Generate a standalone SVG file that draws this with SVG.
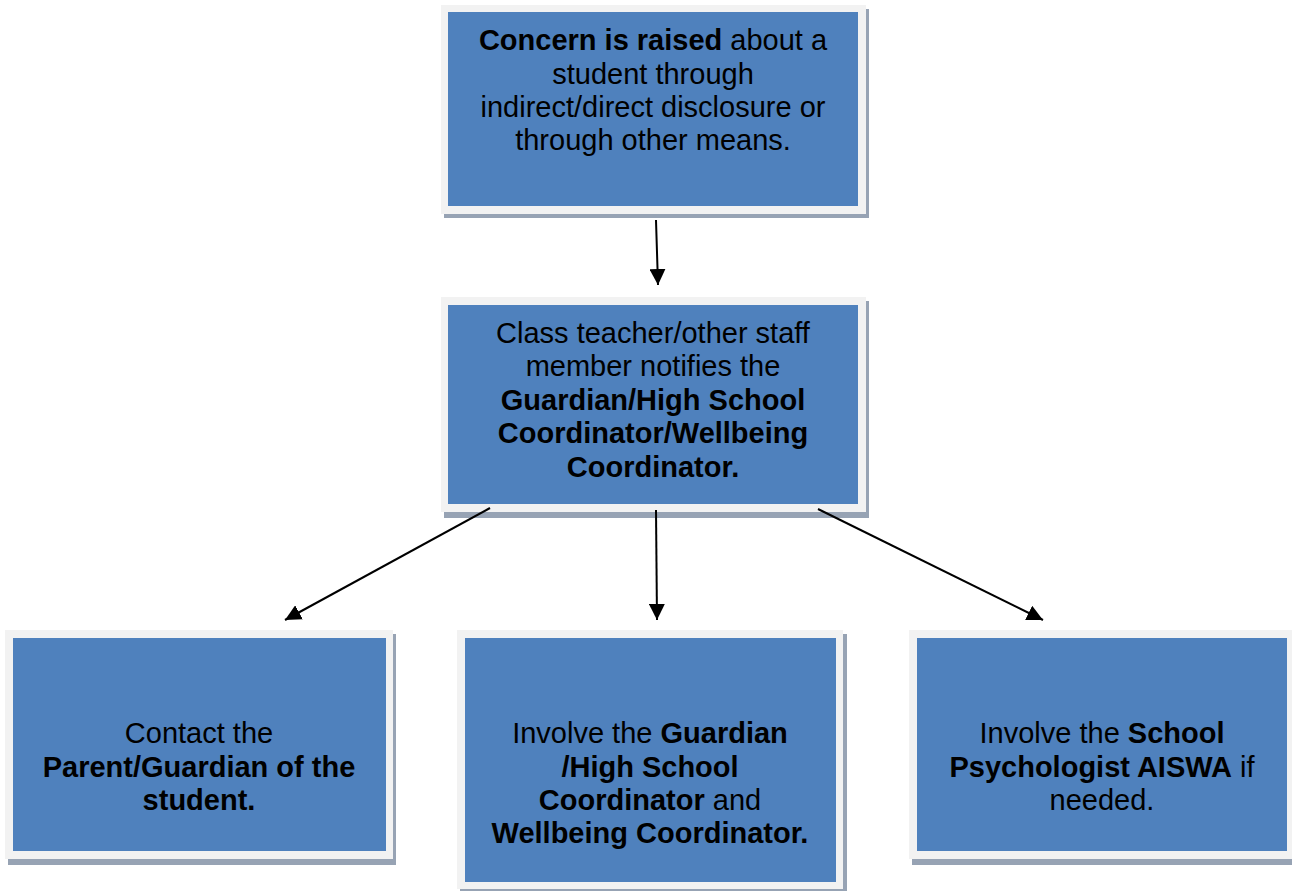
<svg xmlns="http://www.w3.org/2000/svg" width="1292" height="891" viewBox="0 0 1292 891">
<style>
.sh{fill:#97a3b4}
.fr{fill:#f2f2f2}
.bx{fill:#4f81bd}
text{font-family:"Liberation Sans",Arial,sans-serif;font-size:29px;fill:#000;text-anchor:middle}
.b{font-weight:bold}
.c{stroke:#000;stroke-width:2;fill:none;marker-end:url(#ah)}
</style>
<defs>
<marker id="ah" viewBox="0 0 10 10" refX="10" refY="5" markerWidth="8" markerHeight="8" markerUnits="strokeWidth" orient="auto">
<path d="M0,0 L10,5 L0,10 Z" fill="#000"/>
</marker>
</defs>
<rect width="1292" height="891" fill="#fff"/>
<g id="n1">
<rect class="sh" x="444" y="9" width="425" height="209"/>
<rect class="fr" x="441" y="5" width="425" height="209"/>
<rect class="bx" x="448" y="12" width="410" height="194"/>
<text x="653" y="50"><tspan class="b">Concern is raised</tspan> about a</text>
<text x="653" y="83.5">student through</text>
<text x="653" y="117">indirect/direct disclosure or</text>
<text x="653" y="150">through other means.</text>
</g>
<g id="n2">
<rect class="sh" x="444" y="301" width="425" height="217"/>
<rect class="fr" x="441" y="297" width="425" height="215"/>
<rect class="bx" x="448" y="305" width="410" height="199"/>
<text x="653" y="343">Class teacher/other staff</text>
<text x="653" y="376">member notifies the</text>
<text x="653" y="410" class="b">Guardian/High School</text>
<text x="653" y="443" class="b">Coordinator/Wellbeing</text>
<text x="653" y="477" class="b">Coordinator.</text>
</g>
<g id="n3">
<rect class="sh" x="8" y="634" width="388" height="231"/>
<rect class="fr" x="5" y="630" width="388" height="229"/>
<rect class="bx" x="13" y="638" width="373" height="213"/>
<text x="199" y="743">Contact the</text>
<text x="199" y="777" class="b">Parent/Guardian of the</text>
<text x="199" y="810" class="b">student.</text>
</g>
<g id="n4">
<rect class="sh" x="460" y="634" width="387" height="260"/>
<rect class="fr" x="457" y="630" width="386" height="259"/>
<rect class="bx" x="465" y="638" width="371" height="244"/>
<text x="650" y="743">Involve the <tspan class="b">Guardian</tspan></text>
<text x="650" y="777" class="b">/High School</text>
<text x="650" y="810"><tspan class="b">Coordinator</tspan> and</text>
<text x="650" y="843" class="b">Wellbeing Coordinator.</text>
</g>
<g id="n5">
<rect class="sh" x="912" y="634" width="385" height="231"/>
<rect class="fr" x="909" y="630" width="385" height="229"/>
<rect class="bx" x="917" y="638" width="370" height="213"/>
<text x="1102" y="743">Involve the <tspan class="b">School</tspan></text>
<text x="1102" y="777"><tspan class="b">Psychologist AISWA</tspan> if</text>
<text x="1102" y="810">needed.</text>
</g>
<g id="connectors">
<line class="c" x1="656" y1="220" x2="658" y2="285"/>
<line class="c" x1="490" y1="508" x2="285" y2="620"/>
<line class="c" x1="656" y1="510" x2="657" y2="620"/>
<line class="c" x1="818" y1="509" x2="1043" y2="620"/>
</g>
</svg>
